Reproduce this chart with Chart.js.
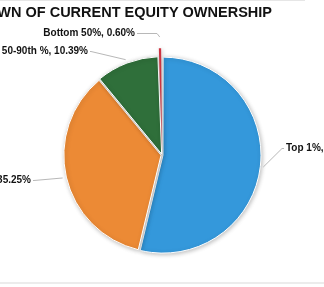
<!DOCTYPE html>
<html>
<head>
<meta charset="utf-8">
<script src="https://cdn.jsdelivr.net/npm/chart.js@4/dist/chart.umd.min.js"></script>
<style>
html,body{margin:0;padding:0;background:#fff;}
#wrap{width:324px;height:287px;position:relative;}
</style>
</head>
<body>
<div id="wrap"><canvas id="c" width="324" height="287"></canvas></div>
<script>
const titleText = "BREAKDOWN OF CURRENT EQUITY OWNERSHIP";
const categories = ["Top 1%", "90-99th %", "50-90th %", "Bottom 50%"];
const shares = [53.76, 35.25, 10.39, 0.60];
const colors = ["#3498db", "#ec8a35", "#2f6f3a", "#cc3340"];

// label placement relative to the pie centre (style only)
const labelPlace = [
  {dx: 124, dy: -7, align: "left", elbow: 4},
  {dx: -131, dy: 25, align: "right", elbow: 3},
  {dx: -74, dy: -104, align: "right", elbow: 3},
  {dx: -27, dy: -122, align: "right", elbow: 22}
];

const framePlugin = {
  id: "frame",
  beforeDraw(chart) {
    const ctx = chart.ctx;
    ctx.save();
    ctx.fillStyle = "#fff";
    ctx.fillRect(0, 0, chart.width, chart.height);
    ctx.fillStyle = "#e6e6e6";
    ctx.fillRect(0, 0, 305, 1);
    ctx.fillStyle = "#ececec";
    ctx.fillRect(0, 282, chart.width, 2);
    ctx.fillStyle = "#111";
    ctx.font = "bold 14.5px 'Liberation Sans', Arial, sans-serif";
    ctx.textAlign = "right";
    ctx.textBaseline = "middle";
    ctx.fillText(titleText, 272, 13);
    ctx.restore();
  },
  beforeDatasetsDraw(chart) {
    const ctx = chart.ctx;
    ctx.save();
    ctx.shadowColor = "rgba(0,0,0,0.25)";
    ctx.shadowBlur = 4;
    ctx.shadowOffsetX = 1;
    ctx.shadowOffsetY = 1;
  },
  afterDatasetsDraw(chart) {
    chart.ctx.restore();
    const ctx = chart.ctx;
    const meta = chart.getDatasetMeta(0);
    ctx.save();
    ctx.font = "bold 10px 'Liberation Sans', Arial, sans-serif";
    ctx.textBaseline = "middle";
    meta.data.forEach((arc, i) => {
      const p = arc.getProps(["x", "y", "startAngle", "endAngle", "outerRadius"], true);
      const off = arc.options.offset || 0;
      const mid = (p.startAngle + p.endAngle) / 2;
      const ex = p.x + Math.cos(mid) * (p.outerRadius + off + 1);
      const ey = p.y + Math.sin(mid) * (p.outerRadius + off + 1);
      const L = labelPlace[i];
      const tx = p.x + L.dx, ty = p.y + L.dy;
      const sgn = L.align === "left" ? -1 : 1;
      const elx = tx + sgn * L.elbow;
      ctx.strokeStyle = "#b8b8b8";
      ctx.lineWidth = 1;
      ctx.beginPath();
      ctx.moveTo(ex, ey);
      ctx.lineTo(elx, ty + 0.5);
      ctx.lineTo(tx + sgn * 2, ty + 0.5);
      ctx.stroke();
      ctx.fillStyle = "#111";
      ctx.textAlign = L.align;
      ctx.fillText(categories[i] + ", " + shares[i].toFixed(2) + "%", tx, ty);
    });
    ctx.restore();
  }
};

new Chart(document.getElementById("c"), {
  type: "pie",
  data: {
    labels: categories,
    datasets: [{
      data: shares,
      backgroundColor: colors,
      borderColor: "#ffffff",
      borderWidth: [1, 1, 1, 0],
      offset: [4, 4, 4, 20]
    }]
  },
  options: {
    responsive: false,
    animation: false,
    radius: 97,
    layout: {padding: {top: 50, bottom: 27, left: 0, right: 0}},
    plugins: {legend: {display: false}, tooltip: {enabled: false}, title: {display: false}}
  },
  plugins: [framePlugin]
});
</script>
</body>
</html>
